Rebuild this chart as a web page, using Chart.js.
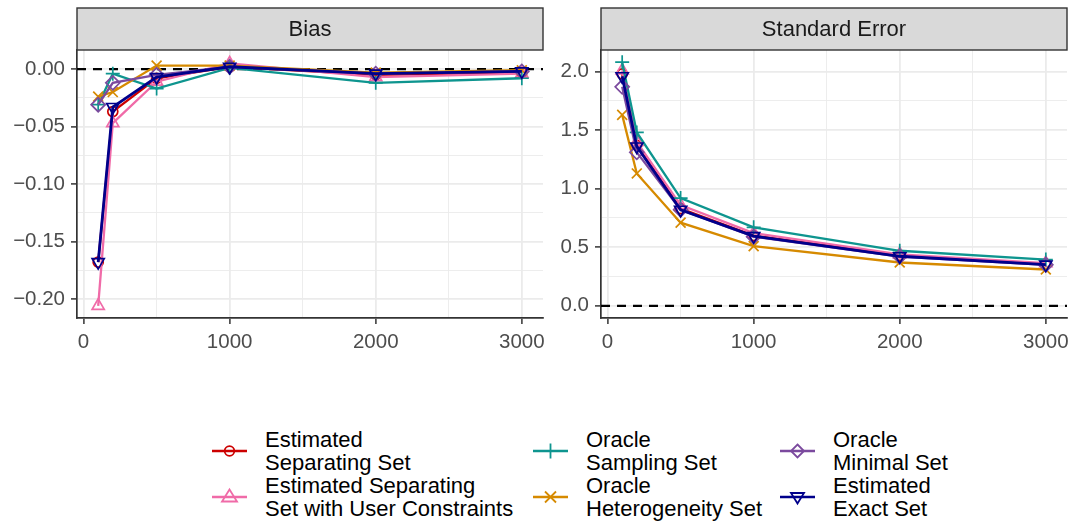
<!DOCTYPE html>
<html>
<head>
<meta charset="utf-8">
<script src="https://cdn.jsdelivr.net/npm/chart.js@4.4.1/dist/chart.umd.min.js"></script>
<style>
  body { margin: 0; background: #fff; font-family: "Liberation Sans", Arial, sans-serif; }
  #wrap { position: relative; width: 1077px; height: 529px; background: #fff; overflow: hidden; }
  canvas { position: absolute; top: 0; }
  #legend { position: absolute; top: 428px; left: 0; width: 1077px; height: 100px; }
  .item { position: absolute; display: flex; align-items: center; height: 46px; }
  .item svg { margin-right: 18px; flex: none; }
  .item span { font-size: 22px; line-height: 23px; color: #000; white-space: nowrap; }
</style>
</head>
<body>
<div id="wrap">
  <canvas id="biasChart" width="552" height="362" style="left:0"></canvas>
  <canvas id="seChart" width="525" height="362" style="left:552px"></canvas>
  <div id="legend"></div>
</div>
<script>
// sample sizes
var sampleSizes = [100, 200, 500, 1000, 2000, 3000];

var seriesNames = [
  "Estimated\nSeparating Set",
  "Estimated Separating\nSet with User Constraints",
  "Oracle\nSampling Set",
  "Oracle\nHeterogeneity Set",
  "Oracle\nMinimal Set",
  "Estimated\nExact Set"
];

// Bias panel
var biasSeparating   = [-0.168, -0.037, -0.008, 0.002, -0.005, -0.003];
var biasConstrained  = [-0.206, -0.047, -0.011, 0.005, -0.007, -0.004];
var biasSampling     = [-0.031, -0.004, -0.017, 0.001, -0.012, -0.008];
var biasHetero       = [-0.024, -0.020, 0.003, 0.003, -0.003, -0.001];
var biasMinimal      = [-0.031, -0.012, -0.005, 0.002, -0.004, -0.002];
var biasExact        = [-0.168, -0.033, -0.007, 0.002, -0.004, -0.002];

// Standard error panel
var seSeparating  = [1.98, 1.37, 0.83, 0.60, 0.43, 0.355];
var seConstrained = [2.01, 1.40, 0.86, 0.62, 0.44, 0.365];
var seSampling    = [2.08, 1.48, 0.92, 0.67, 0.47, 0.395];
var seHetero      = [1.63, 1.13, 0.71, 0.51, 0.37, 0.31];
var seMinimal     = [1.87, 1.31, 0.82, 0.59, 0.42, 0.35];
var seExact       = [1.96, 1.36, 0.82, 0.595, 0.423, 0.352];

var biasTicks = [-0.20, -0.15, -0.10, -0.05, 0.00];
var seTicks = [0.0, 0.5, 1.0, 1.5, 2.0];
var xTicks = [0, 1000, 2000, 3000];

var biasData = [biasSeparating, biasConstrained, biasSampling, biasHetero, biasMinimal, biasExact];
var seData = [seSeparating, seConstrained, seSampling, seHetero, seMinimal, seExact];

var FONT = "'Liberation Sans', Arial, sans-serif";

var styles = [
  { color: "#CC0000", point: "circle", rot: 0, width: 2.3 },
  { color: "#F06BA8", point: "triangle", rot: 0, width: 2.3 },
  { color: "#0E958F", point: "cross", rot: 0, width: 2.3 },
  { color: "#D68A00", point: "crossRot", rot: 0, width: 2.3 },
  { color: "#7B4A9E", point: "rectRot", rot: 0, width: 2.3 },
  { color: "#00008B", point: "triangle", rot: 180, width: 2.8 }
];

function makeDatasets(values) {
  return values.map(function (vals, i) {
    var st = styles[i];
    return {
      label: seriesNames[i],
      data: sampleSizes.map(function (x, j) { return { x: x, y: vals[j] }; }),
      borderColor: st.color,
      borderWidth: st.width,
      pointStyle: st.point,
      pointRotation: st.rot,
      pointRadius: st.point === "circle" ? 5 : 7,
      pointBorderWidth: 1.7,
      pointBorderColor: st.color,
      pointBackgroundColor: "rgba(0,0,0,0)",
      fill: false,
      tension: 0,
      order: 5 - i
    };
  });
}

// major ticks plus the minor ones half way between
function withMinor(major) {
  var out = [];
  var half = (major[1] - major[0]) / 2;
  major.forEach(function (v) {
    out.push({ value: v, major: true });
    out.push({ value: v + half, major: false });
  });
  out.unshift({ value: major[0] - half, major: false });
  return out;
}

// dashed zero line and facet strip
var panelPlugin = {
  id: "panel",
  beforeDatasetsDraw: function (chart) {
    var c = chart.ctx, a = chart.chartArea, y = chart.scales.y.getPixelForValue(0);
    c.save();
    c.strokeStyle = "#000";
    c.lineWidth = 2.2;
    c.setLineDash([9, 7]);
    c.beginPath();
    c.moveTo(a.left, y);
    c.lineTo(a.right, y);
    c.stroke();
    c.restore();
  },
  afterDraw: function (chart) {
    var c = chart.ctx, a = chart.chartArea;
    c.save();
    c.fillStyle = "#D9D9D9";
    c.fillRect(a.left, 8, a.right - a.left, a.top - 8);
    c.strokeStyle = "#333333";
    c.lineWidth = 1.4;
    c.strokeRect(a.left, 8, a.right - a.left, a.top - 8);
    c.fillStyle = "#1A1A1A";
    c.font = "22px " + FONT;
    c.textAlign = "center";
    c.textBaseline = "middle";
    c.fillText(chart.options.plugins.panel.title, (a.left + a.right) / 2, (8 + a.top) / 2 + 1);
    c.restore();
  }
};

function makeChart(id, values, title, yMin, yMax, yTicks, digits, yWidth, padRight) {
  var isMajor = function (ctx) { return ctx.tick && ctx.tick.major; };
  return new Chart(document.getElementById(id), {
    type: "line",
    data: { datasets: makeDatasets(values) },
    plugins: [panelPlugin],
    options: {
      responsive: false,
      animation: false,
      devicePixelRatio: 1,
      layout: { padding: { top: 50, right: padRight } },
      plugins: {
        legend: { display: false },
        tooltip: { enabled: false },
        panel: { title: title }
      },
      scales: {
        x: {
          type: "linear",
          min: -45,
          max: 3145,
          afterBuildTicks: function (s) {
            s.ticks = withMinor(xTicks).filter(function (t) { return t.value >= s.min && t.value <= s.max; });
          },
          afterFit: function (s) { s.height = 44; },
          border: { color: "#333333", width: 1.7 },
          grid: {
            color: "#EBEBEB",
            lineWidth: function (ctx) { return isMajor(ctx) ? 1.8 : 0.9; },
            tickColor: function (ctx) { return isMajor(ctx) ? "#333333" : "rgba(0,0,0,0)"; },
            tickLength: 6,
            tickWidth: 1.5
          },
          ticks: {
            autoSkip: false,
            maxRotation: 0,
            padding: 6,
            color: "#4D4D4D",
            font: { family: FONT, size: 20.5 },
            callback: function (v, i, all) { return all[i].major ? String(Math.round(v)) : ""; }
          }
        },
        y: {
          min: yMin,
          max: yMax,
          afterBuildTicks: function (s) {
            s.ticks = withMinor(yTicks).filter(function (t) { return t.value >= s.min && t.value <= s.max; });
          },
          afterFit: function (s) { s.width = yWidth; },
          border: { color: "#333333", width: 1.7 },
          grid: {
            color: "#EBEBEB",
            lineWidth: function (ctx) { return isMajor(ctx) ? 1.8 : 0.9; },
            tickColor: function (ctx) { return isMajor(ctx) ? "#333333" : "rgba(0,0,0,0)"; },
            tickLength: 6,
            tickWidth: 1.5
          },
          ticks: {
            autoSkip: false,
            padding: 6,
            color: "#4D4D4D",
            font: { family: FONT, size: 20.5 },
            callback: function (v, i, all) {
              if (!all[i].major) return "";
              var s = v.toFixed(digits);
              if (Number(s) === 0) s = (0).toFixed(digits);
              return s.replace("-", "\u2212");
            }
          }
        }
      }
    }
  });
}

makeChart("biasChart", biasData, "Bias", -0.2166, 0.0166, biasTicks, 2, 77, 9);
makeChart("seChart", seData, "Standard Error", -0.104, 2.184, seTicks, 1, 49, 10);

// legend (3 columns, 2 rows, filled column by column)
var markerSvg = {
  circle: '<circle cx="17.5" cy="11" r="4.8" fill="none"/>',
  triangle: '<polygon points="17.5,3.5 25,15.5 10,15.5" fill="none"/>',
  cross: '<line x1="17.5" y1="3.5" x2="17.5" y2="18.5"/><line x1="10" y1="11" x2="25" y2="11"/>',
  crossRot: '<line x1="12" y1="5.5" x2="23" y2="16.5"/><line x1="23" y1="5.5" x2="12" y2="16.5"/>',
  rectRot: '<polygon points="17.5,4.5 24,11 17.5,17.5 11,11" fill="none"/>',
  triDown: '<polygon points="11,7 24,7 17.5,17.5" fill="none"/>'
};
var colText = [265, 586, 833];
var legendHtml = "";
seriesNames.forEach(function (name, i) {
  var st = styles[i];
  var key = st.rot === 180 ? "triDown" : st.point;
  var col = Math.floor(i / 2), row = i % 2;
  legendHtml += '<div class="item" style="left:' + (colText[col] - 53) + 'px;top:' + (row * 46) + 'px">' +
    '<svg width="35" height="22" stroke="' + st.color + '" stroke-width="1.8">' +
    '<line x1="0" y1="11" x2="35" y2="11" stroke-width="2.4"/>' + markerSvg[key] + '</svg>' +
    '<span>' + name.replace("\n", "<br>") + '</span></div>';
});
document.getElementById("legend").innerHTML = legendHtml;
</script>
</body>
</html>
